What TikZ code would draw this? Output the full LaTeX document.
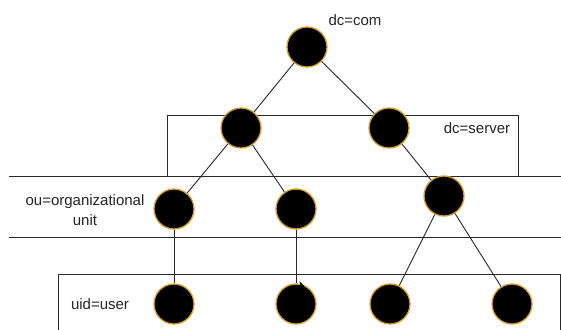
\documentclass[tikz,border=0pt]{standalone}
\usepackage{fontspec}
\setmainfont{Liberation Sans}
\usepackage{tikz}
\usetikzlibrary{arrows,shapes,positioning}
\usepackage{xcolor}
\definecolor{dngold}{RGB}{214,160,40}
\definecolor{dnline}{RGB}{40,40,40}
\tikzstyle{entry} = [circle, minimum size=40pt, inner sep=0pt, fill=black, draw=dngold, line width=1.3pt]
\tikzstyle{link} = [line width=0.9pt, color=dnline]
\tikzstyle{band} = [line width=0.9pt, color=dnline]
\tikzstyle{tag} = [font=\fontsize{15}{20}\selectfont, text=black!85, inner sep=0pt, align=center]

\begin{document}
\begin{tikzpicture}[x=1pt, y=-1pt]
\clip (0,0) rectangle (561,329);
\fill[white] (0,0) rectangle (561,329);

% Bands and boxes
\draw[band] (167,176) -- (167,115) -- (518,115) -- (518,176);
\draw[band] (9,176) -- (561,176);
\draw[band] (9,237) -- (561,237);
\draw[band] (58,340) -- (58,274) -- (560,274) -- (560,340);

% Root
\node (com) [entry] at (307,47) {};

% Domain level
\node (srvA) [entry] at (241,128) {};
\node (srvB) [entry] at (389,128) {};

% Organizational units
\node (ouA) [entry] at (174,209) {};
\node (ouB) [entry] at (296,209) {};
\node (ouC) [entry] at (444,196) {};

% Users
\node (usrA) [entry] at (174,304) {};
\node (usrB) [entry] at (296,304) {};
\node (usrC) [entry] at (390,304) {};
\node (usrD) [entry] at (512,304) {};

% Connections
\draw[link] (com) -- (srvA);
\draw[link] (com) -- (srvB);
\draw[link] (srvA) -- (ouA);
\draw[link] (srvA) -- (ouB);
\draw[link] (srvB) -- (ouC);
\draw[link] (ouA) -- (usrA);
\draw[link] (ouB) -- (usrB);
\draw[link] (ouC) -- (usrC);
\draw[link] (ouC) -- (usrD);
\fill[black] (299.5,281) -- (304.5,286.5) -- (301,288) -- cycle;

% Labels
\node (lblCom) [tag] at (355,20) {dc=com};
\node (lblSrv) [tag] at (477,128) {dc=server};
\node (lblOu) [tag] at (85,210) {ou=organizational\\unit};
\node (lblUid) [tag] at (100,304) {uid=user};
\end{tikzpicture}
\end{document}
